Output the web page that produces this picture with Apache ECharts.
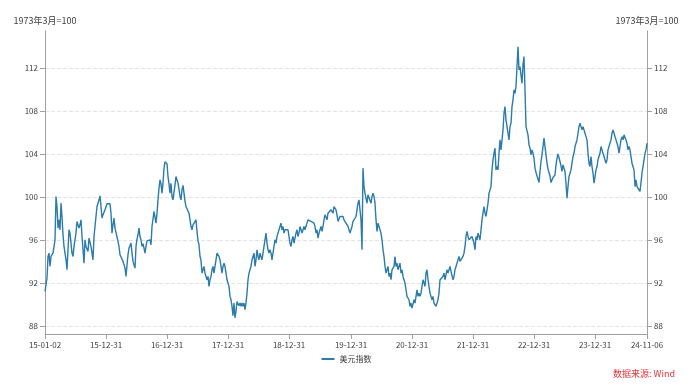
<!DOCTYPE html>
<html><head><meta charset="utf-8">
<script src="https://cdn.jsdelivr.net/npm/echarts@6/dist/echarts.min.js"></script>
<style>html,body{margin:0;padding:0;background:#fff}#c{width:693px;height:385px}</style>
</head><body><div id="c"></div>
<script>
// Period boundaries (the series starts on startDate and each yearly block ends on the matching periodEnds date)
const startDate = '2015-01-02';
const periodEnds = ['2015-12-31','2016-12-31','2017-12-31','2018-12-31','2019-12-31','2020-12-31','2021-12-31','2022-12-31','2023-12-31','2024-11-06'];
// US dollar index readings (roughly weekly)
const v2015 = [91.23,91.85,92.47,94.48,94.79,93.55,94.48,94.33,94.79,94.64,96.03,100.06,99.13,97.12,97.89,96.96,99.44,98.20,96.50,95.41,94.79,94.17,93.24,95.10,96.96,96.65,95.72,94.79,94.48,95.41,96.03,96.65,97.74,97.74,97.12,97.43,97.89,96.34,95.10,93.86,96.03,95.41,95.57,94.95,96.19,96.19,95.41,94.79,94.17,96.34,97.27,98.20,99.13,99.44,99.75,100.12,99.13,98.05,98.36,98.51,98.82,98.98];
const v2016 = [99.38,99.44,99.44,99.38,98.51,96.65,97.43,98.05,97.12,97.27,96.28,95.88,95.41,94.64,94.79,94.48,94.02,94.02,93.39,92.62,93.70,94.64,95.26,95.41,95.72,94.79,94.02,93.86,93.39,95.41,96.09,96.50,97.12,96.34,96.03,95.41,95.66,95.26,94.79,95.41,95.93,95.78,95.90,96.03,95.57,97.27,97.95,98.67,98.57,97.58,98.51,99.75,100.84,101.61,101.24,100.37,101.30,102.70,103.29,103.26,103.10];
const v2017 = [101.92,101.24,100.37,101.30,100.06,99.75,100.44,101.15,101.92,101.86,101.30,100.74,100.06,99.75,100.68,101.09,100.37,99.60,99.13,98.98,99.29,98.51,97.89,97.27,96.96,97.43,97.58,97.27,97.89,96.81,95.93,95.57,94.48,94.11,92.93,93.24,93.55,92.93,93.09,92.31,92.62,91.69,92.31,92.62,93.24,93.55,92.93,93.55,94.17,94.79,94.79,94.48,94.17,93.55,92.93,93.55,93.86,93.55,92.93,92.31,92.31];
const v2018 = [91.69,90.76,90.45,89.83,88.96,90.14,88.75,89.36,90.29,90.23,89.89,90.14,89.83,90.14,89.83,90.14,89.52,90.14,91.07,92.31,92.93,93.24,93.55,94.17,94.48,94.79,93.55,94.17,95.10,94.48,94.17,94.79,94.48,94.17,94.79,95.41,96.03,96.65,95.72,95.10,94.79,95.10,94.79,94.17,94.79,95.41,96.03,95.72,96.34,96.65,96.96,97.27,97.58,96.96,97.27,96.65,96.96,97.12,96.81,96.96,96.34];
const v2019 = [95.72,95.41,96.03,96.34,95.72,96.19,96.65,96.96,96.34,96.65,97.27,96.96,96.65,96.96,97.27,96.96,97.12,97.58,97.89,97.74,98.05,97.74,97.89,97.89,97.58,97.27,96.65,96.96,96.19,96.65,96.96,97.27,96.81,97.27,97.89,98.36,98.20,97.89,98.51,98.36,98.67,98.82,98.98,98.51,99.13,99.29,98.82,98.36,97.74,97.89,98.20,98.36,98.05,98.20,97.89,97.74,97.58,97.43,97.27,97.12,96.65,96.96];
const v2020 = [97.27,97.74,97.89,97.58,98.20,98.82,99.44,99.75,98.82,97.89,95.10,102.70,100.99,100.37,100.37,99.44,100.22,100.06,100.06,99.44,100.06,100.37,100.06,99.44,97.89,96.81,97.58,97.27,96.96,96.65,96.03,95.10,94.48,93.55,92.93,93.24,93.55,92.62,92.93,92.31,93.24,93.24,93.55,94.48,93.55,93.86,93.24,93.55,93.86,92.93,93.24,92.62,92.31,92.00,91.38,90.76,90.91,90.45,89.83,90.14,89.67];
const v2021 = [89.83,90.45,90.14,90.76,91.38,90.76,91.07,90.76,91.07,91.69,92.31,92.00,91.69,92.93,93.24,92.31,91.69,91.07,90.76,90.45,90.76,90.14,89.99,89.83,90.14,90.45,91.07,92.31,92.16,92.47,92.62,92.93,92.31,92.78,93.24,92.93,93.24,93.55,93.09,92.93,92.31,92.62,93.24,93.55,93.86,94.17,94.48,94.02,93.86,94.17,94.48,94.79,95.41,96.34,96.81,96.34,96.03,96.19,96.03,96.34,96.03];
const v2022 = [95.72,95.10,96.34,96.03,96.65,96.65,96.03,96.96,97.89,98.51,99.13,98.51,98.20,98.82,99.44,100.37,100.68,100.99,102.54,103.47,104.09,104.56,102.54,102.85,102.54,104.09,105.33,104.40,104.40,106.26,107.81,108.43,107.19,106.57,105.95,105.33,106.57,106.88,108.43,109.06,109.99,109.67,110.30,112.16,114.01,111.85,112.16,112.31,110.60,112.31,113.09,109.99,106.57,106.73,105.80,104.87,104.56,103.94,104.40,104.09,103.63];
const v2023 = [102.70,102.30,101.99,101.67,101.36,102.39,103.32,103.94,104.71,105.49,104.71,103.94,103.16,102.60,102.30,101.99,101.36,101.52,101.83,101.67,102.08,103.01,103.63,104.03,103.88,103.32,102.91,102.39,103.01,102.91,102.39,101.30,99.91,100.99,101.92,102.23,102.54,103.16,103.78,104.09,104.71,105.02,105.33,105.95,106.57,106.88,106.57,106.26,106.57,106.42,105.95,105.64,105.33,104.09,103.16,102.85,103.78,102.85,102.23,101.30,101.92];
const v2024 = [102.54,102.85,103.47,103.78,104.09,104.71,104.40,104.09,103.94,104.09,103.16,103.47,104.40,104.71,104.71,105.33,105.95,106.26,105.95,105.64,105.33,105.02,104.71,104.09,104.71,105.33,105.64,105.33,105.80,105.95,105.33,105.02,104.40,104.71,104.40,103.78,103.16,102.85,102.54,100.99,101.61,100.99,100.99,100.84,100.53,100.68,102.23,102.85,103.47,104.09,104.40,105.02];
// Axis tick labels
const xTickLabels = ['15-01-02','15-12-31','16-12-31','17-12-31','18-12-31','19-12-31','20-12-31','21-12-31','22-12-31','23-12-31','24-11-06'];
const yTickValues = [88,92,96,100,104,108,112];
const seriesName = '美元指数';
const unitName = '1973年3月=100';
const sourceText = '数据来源: Wind';

const blocks = [v2015,v2016,v2017,v2018,v2019,v2020,v2021,v2022,v2023,v2024];
const DAY = 86400000;
function parseD(s){const p=s.split('-').map(Number);return Date.UTC(p[0],p[1]-1,p[2]);}
function fmtD(t){return new Date(t).toISOString().slice(0,10);}
const dates = [], values = [];
let prev = parseD(startDate);
blocks.forEach((arr,k)=>{
  const end = parseD(periodEnds[k]);
  const n = arr.length;
  arr.forEach((v,j)=>{
    const frac = k===0 ? j/(n-1) : (j+1)/n;
    dates.push(fmtD(prev + Math.round((end-prev)*frac/DAY)*DAY));
    values.push(v);
  });
  prev = end;
});
const tickSet = new Set(xTickLabels);
const showTick = (idx, val) => tickSet.has(String(val).slice(2));

const FONT = 'Noto Sans CJK SC';
const axisGray = '#a0a0a0';
const txt = '#404040';
const yMin = 87.26, yMax = 115.47;
function yAx(pos, split){
  return {
    type:'value', position:pos, min:yMin, max:yMax,
    name: unitName, nameLocation:'end', nameGap:6,
    nameTextStyle:{fontSize:9, color:txt, fontFamily:FONT},
    axisLine:{show:true, lineStyle:{color:axisGray, width:1}},
    axisTick:{show:true, length:5, customValues:yTickValues, lineStyle:{color:axisGray}},
    axisLabel:{customValues:yTickValues, fontSize:8, color:txt, fontFamily:FONT, margin:7},
    splitLine:{show:split, lineStyle:{type:'dashed', color:'#e3e3e3', width:1}}
  };
}
const chart = echarts.init(document.getElementById('c'), null, {renderer:'canvas'});
chart.setOption({
  animation:false,
  backgroundColor:'#fff',
  grid:{left:45, right:46, top:31, bottom:51, containLabel:false},
  legend:{
    data:[seriesName], bottom:17, left:'center', icon:'rect', itemWidth:13, itemHeight:2,
    textStyle:{fontSize:8, color:txt, fontFamily:FONT}
  },
  graphic:[{type:'text', right:18, bottom:7, style:{text:sourceText, fill:'#e3333a', font:'9px "Noto Sans CJK SC"'}}],
  xAxis:{
    type:'category', data:dates, boundaryGap:false,
    axisLine:{lineStyle:{color:axisGray, width:1}},
    axisTick:{show:true, interval:showTick, length:5, lineStyle:{color:axisGray}},
    axisLabel:{interval:showTick, formatter:v=>v.slice(2), fontSize:8, color:txt, fontFamily:FONT, margin:7, showMinLabel:true, showMaxLabel:true},
    splitLine:{show:false}
  },
  yAxis:[yAx('left', true), yAx('right', false)],
  series:[{
    name:seriesName, type:'line', data:values, yAxisIndex:0,
    showSymbol:false, symbol:'none', lineStyle:{color:'#2b7bab', width:1.4}, itemStyle:{color:'#2b7bab'}
  }]
});
</script></body></html>
